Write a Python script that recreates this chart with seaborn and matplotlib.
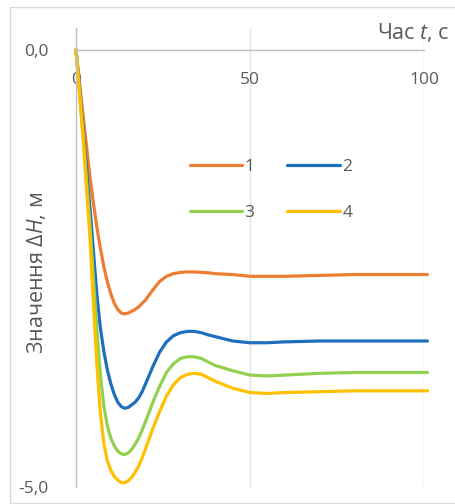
import matplotlib
matplotlib.use("Agg")
import matplotlib.pyplot as plt
from matplotlib.lines import Line2D
from matplotlib.patches import Rectangle
import pandas as pd
import seaborn as sns

# Time, s
time_s = [0, 2, 4, 5, 6, 7, 8, 9, 10, 11, 12, 13, 14, 15, 16, 17, 18, 19, 20,
          22, 24, 26, 28, 30, 32, 34, 36, 38, 40, 45, 50, 55, 60, 70, 80, 90, 101]

# Level change ΔH, m, for the four cases
dh_1 = [0, -0.74, -1.45, -1.75, -2.03, -2.27, -2.48, -2.65, -2.79, -2.90,
        -2.97, -3.01, -3.02, -3.01, -2.99, -2.97, -2.94, -2.90, -2.86,
        -2.75, -2.65, -2.59, -2.56, -2.545, -2.54, -2.54, -2.545, -2.55,
        -2.56, -2.57, -2.59, -2.59, -2.59, -2.58, -2.57, -2.57, -2.57]
dh_2 = [0, -0.90, -1.80, -2.30, -2.80, -3.18, -3.45, -3.66, -3.82, -3.94,
        -4.03, -4.08, -4.10, -4.09, -4.06, -4.03, -3.98, -3.91, -3.82,
        -3.63, -3.46, -3.34, -3.27, -3.235, -3.22, -3.22, -3.235, -3.26,
        -3.28, -3.33, -3.35, -3.35, -3.34, -3.33, -3.33, -3.33, -3.33]
dh_3 = [0, -0.95, -2.00, -2.60, -3.20, -3.72, -4.07, -4.30, -4.44, -4.53,
        -4.59, -4.62, -4.63, -4.61, -4.57, -4.51, -4.44, -4.35, -4.25,
        -4.04, -3.85, -3.69, -3.59, -3.53, -3.51, -3.51, -3.53, -3.57,
        -3.61, -3.67, -3.72, -3.73, -3.72, -3.70, -3.69, -3.69, -3.69]
dh_4 = [0, -1.00, -2.15, -2.90, -3.60, -4.15, -4.50, -4.70, -4.81, -4.88,
        -4.92, -4.95, -4.95, -4.93, -4.89, -4.83, -4.76, -4.67, -4.56,
        -4.34, -4.14, -3.96, -3.83, -3.75, -3.71, -3.70, -3.71, -3.75,
        -3.79, -3.87, -3.92, -3.93, -3.92, -3.91, -3.90, -3.90, -3.90]

series_names = ["1", "2", "3", "4"]
colors = ["#ED7D31", "#1F6FBF", "#92D050", "#FFC000"]

x_ticks = [0, 50, 100]
x_tick_labels = ["0", "50", "100"]
y_ticks = [0, -5]
y_tick_labels = ["0,0", "-5,0"]

frames = []
for name, vals in zip(series_names, [dh_1, dh_2, dh_3, dh_4]):
    frames.append(pd.DataFrame({"t": time_s, "dh": vals, "series": name}))
df = pd.concat(frames, ignore_index=True)

sns.set_style("white")
plt.rcParams["font.family"] = ["Open Sans", "DejaVu Sans"]
plt.rcParams["mathtext.fontset"] = "custom"
plt.rcParams["mathtext.rm"] = "Open Sans"
plt.rcParams["mathtext.it"] = "Open Sans:italic"

text_color = "#595959"
axis_color = "#BFBFBF"
grid_color = "#E3E3E3"
fs = 12.5
title_fs = 15.5
lw = 2.3

W, H = 455, 504
fig = plt.figure(figsize=(W / 100, H / 100), dpi=100)
ax = fig.add_axes([76 / W, 1 - 487 / H, 348 / W, 459 / H])

sns.lineplot(data=df, x="t", y="dh", hue="series", palette=colors,
             hue_order=series_names, sort=False, estimator=None,
             linewidth=lw, legend=False, ax=ax)
for ln in ax.lines:
    ln.set_clip_on(False)
    ln.set_solid_capstyle("round")
    ln.set_solid_joinstyle("round")

ax.set_xlim(0, 100)
ax.set_ylim(-5, 0.25)

# vertical gridlines and bottom line
for xv in [50, 100]:
    ax.axvline(xv, color=grid_color, lw=1.0, zorder=0)
ax.axhline(-5, color=grid_color, lw=1.0, zorder=0)

for s in ["top", "right"]:
    ax.spines[s].set_visible(False)
ax.spines["left"].set_color(axis_color)
ax.spines["bottom"].set_color(axis_color)
ax.spines["bottom"].set_position(("data", 0))
ax.spines["left"].set_linewidth(1.0)
ax.spines["bottom"].set_linewidth(1.0)

ax.set_xticks(x_ticks)
ax.set_xticklabels(x_tick_labels)
ax.set_yticks(y_ticks)
ax.set_yticklabels(y_tick_labels)
ax.tick_params(axis="x", length=0, pad=16, labelsize=fs, labelcolor=text_color)
ax.tick_params(axis="y", length=0, pad=20, labelsize=fs, labelcolor=text_color)
ax.set_xlabel("")
ax.set_ylabel("")

fig.text(37 / W, 1 - 273 / H, "Значення $\\Delta H$, м", rotation=90,
         ha="center", va="center", fontsize=title_fs, color=text_color)
fig.text(377 / W, 1 - 33 / H, "Час $t$, с", ha="left", va="center",
         fontsize=title_fs, color=text_color)

# legend laid out row by row: 1 2 / 3 4
order = [0, 2, 1, 3]
handles = [Line2D([0], [0], color=colors[i], lw=lw) for i in order]
labels = [series_names[i] for i in order]
fig.legend(handles, labels, loc="center", ncol=2,
           bbox_to_anchor=(271 / W, 1 - 190 / H), bbox_transform=fig.transFigure,
           frameon=False, fontsize=fs, labelcolor=text_color,
           handlelength=3.0, handletextpad=0.15, columnspacing=1.9,
           labelspacing=1.75, borderpad=0)

fig.add_artist(Rectangle((10 / W, 1 - 503 / H), 460 / W, 496 / H,
                         transform=fig.transFigure, fill=False,
                         ec="#D9D9D9", lw=1.0))

fig.savefig("out.png", dpi=100)
